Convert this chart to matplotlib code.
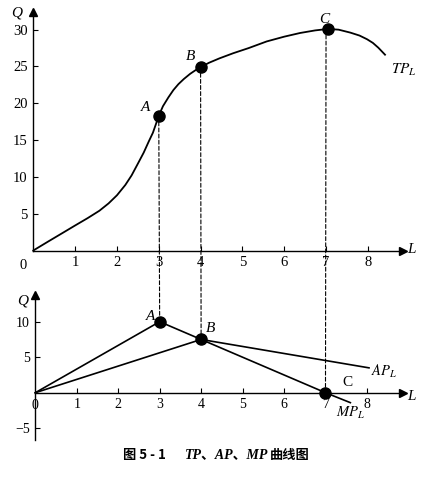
import matplotlib
matplotlib.use("Agg")
import matplotlib.pyplot as plt
from matplotlib.patches import ConnectionPatch

plt.rcParams['mathtext.fontset'] = 'stix'
plt.rcParams['font.family'] = ['Liberation Serif', 'Noto Sans CJK SC']

# ---- data ----
tp_L = [0, 0.35, 0.72, 1.0, 1.3, 1.58, 1.8, 2.0, 2.2, 2.35, 2.51, 2.64, 2.76, 2.86, 2.94,
        3.0, 3.1, 3.23, 3.35, 3.47, 3.6, 3.75, 3.88, 4.0, 4.2, 4.45, 4.78, 5.15, 5.58,
        6.0, 6.38, 6.74, 7.05, 7.3, 7.58, 7.8, 7.98, 8.12, 8.25, 8.41]
tp_Q = [0, 1.2, 2.45, 3.4, 4.4, 5.4, 6.4, 7.5, 8.9, 10.2, 11.9, 13.3, 14.8, 16.0, 17.3,
        18.3, 19.6, 20.8, 21.8, 22.6, 23.3, 24.0, 24.5, 24.9, 25.5, 26.1, 26.8, 27.5, 28.4,
        29.05, 29.55, 29.9, 30.1, 30.0, 29.6, 29.2, 28.7, 28.2, 27.55, 26.6]
top_points_L = [3.0, 4.0, 7.05]
top_points_Q = [18.3, 24.9, 30.1]

mp_L = [0, 3, 4, 7, 7.6]
mp_Q = [0, 10, 7.5, 0, -1.4]
ap_L = [0, 4, 8.05]
ap_Q = [0, 7.5, 3.5]
bot_points_L = [3, 4, 7]
bot_points_Q = [10, 7.5, 0]

x_ticks = [1, 2, 3, 4, 5, 6, 7, 8]
top_y_ticks = [5, 10, 15, 20, 25, 30]
bot_y_ticks = [-5, 5, 10]

W, H = 426, 479
fig = plt.figure(figsize=(W / 100, H / 100), dpi=100)

def pos(left_px, right_px, top_px, bottom_px):
    return [left_px / W, 1 - bottom_px / H, (right_px - left_px) / W, (bottom_px - top_px) / H]

ax1 = fig.add_axes(pos(33.3, 403, 12, 250.5))
ax2 = fig.add_axes(pos(35.3, 403, 295, 440))

ax1.set_xlim(0, 8.84)
ax1.set_ylim(0, 32.4)
ax2.set_xlim(0, 8.87)
ax2.set_ylim(-6.66, 13.76)

for ax in (ax1, ax2):
    ax.patch.set_alpha(0)
    ax.spines['top'].set_visible(False)
    ax.spines['right'].set_visible(False)
    ax.spines['left'].set_position(('data', 0))
    ax.spines['bottom'].set_position(('data', 0))
    ax.spines['left'].set_linewidth(1.0)
    ax.spines['bottom'].set_linewidth(1.0)
    ax.set_xticks(x_ticks)
    ax.tick_params(direction='in', length=3.5, width=0.8, pad=4)
    # arrow heads
    ax.plot(1, 0, marker='>', ms=6, color='black', transform=ax.get_yaxis_transform(), clip_on=False)
    ax.plot(0, 1, marker='^', ms=6, color='black', transform=ax.get_xaxis_transform(), clip_on=False)

ax1.set_yticks(top_y_ticks)
ax1.tick_params(labelsize=10.5)
ax2.set_yticks(bot_y_ticks)
ax2.tick_params(labelsize=10)

# top chart
ax1.plot(tp_L, tp_Q, color='black', lw=1.3, clip_on=False, solid_joinstyle='round')
ax1.plot(top_points_L, top_points_Q, 'o', color='black', ms=8, clip_on=False, zorder=5)
ax1.text(2.69, 19.4, 'A', style='italic', fontsize=11, ha='center', va='center')
ax1.text(3.76, 26.3, 'B', style='italic', fontsize=11, ha='center', va='center')
ax1.text(6.95, 31.4, 'C', style='italic', fontsize=11, ha='center', va='center')
ax1.text(8.55, 24.5, r'$TP_L$', fontsize=11, ha='left', va='center')
ax1.text(-0.4, 32.2, 'Q', style='italic', fontsize=11, ha='center', va='center')
ax1.text(8.95, 0.1, 'L', style='italic', fontsize=11, ha='left', va='center')
ax1.text(-0.25, -2.0, '0', fontsize=10.5, ha='center', va='center')

# bottom chart
ax2.plot(mp_L, mp_Q, color='black', lw=1.2, clip_on=False)
ax2.plot(ap_L, ap_Q, color='black', lw=1.2, clip_on=False)
ax2.plot(bot_points_L, bot_points_Q, 'o', color='black', ms=8, clip_on=False, zorder=5)
ax2.text(2.77, 10.7, 'A', style='italic', fontsize=11, ha='center', va='center')
ax2.text(4.22, 9.1, 'B', style='italic', fontsize=11, ha='center', va='center')
ax2.text(7.52, 1.5, 'C', fontsize=11, ha='center', va='center')
ax2.text(8.1, 3.0, r'$AP_L$', fontsize=10.5, ha='left', va='center')
ax2.text(7.25, -2.9, r'$MP_L$', fontsize=10.5, ha='left', va='center')
ax2.text(-0.3, 12.9, 'Q', style='italic', fontsize=11, ha='center', va='center')
ax2.text(8.98, -0.5, 'L', style='italic', fontsize=11, ha='left', va='center')
ax2.text(0.0, -1.75, '0', fontsize=10, ha='center', va='center')

# dashed guides spanning both panels
for (xa, ya), (xb, yb) in zip(zip(top_points_L, top_points_Q), zip(bot_points_L, bot_points_Q)):
    con = ConnectionPatch(xyA=(xb, ya), coordsA=ax1.transData,
                          xyB=(xb, yb), coordsB=ax2.transData,
                          linestyle=(0, (3.5, 2)), lw=0.8, color='black', zorder=1)
    fig.add_artist(con)

# caption
cy = 1 - 455 / H
fig.text(123 / W, cy, '图 5 - 1', fontsize=9.5, fontweight='bold',
         family=['Noto Sans CJK SC'], ha='left', va='center')
fig.text(185 / W, cy, 'TP、AP、MP', fontsize=10, fontweight='bold', style='italic',
         family=['Liberation Serif', 'Noto Sans CJK SC'], ha='left', va='center')
fig.text(270 / W, cy, '曲线图', fontsize=9.5, fontweight='bold',
         family=['Noto Sans CJK SC'], ha='left', va='center')

fig.savefig('out.png', dpi=100)
